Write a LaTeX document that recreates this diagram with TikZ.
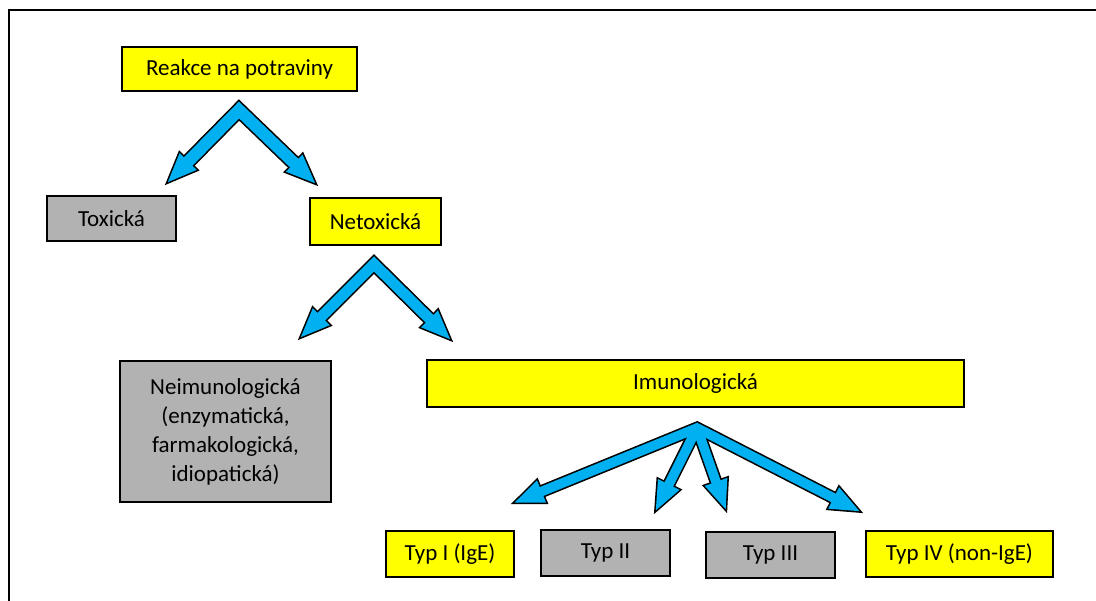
\documentclass[tikz,border=0pt]{standalone}
\usepackage{fontspec}
\setmainfont{Carlito}
\usetikzlibrary{calc}

\definecolor{arrowblue}{RGB}{0,176,240}
\definecolor{boxyellow}{RGB}{255,255,0}
\definecolor{boxgray}{RGB}{178,178,178}

% head of a block arrow: #1 style, #2 where it comes from, #3 tip
\newcommand{\tiphead}[3]{%
  \path[#1] ($(#3)!2pt!(#2)$) -- ($(#3)!16.5pt!(#2)!6pt!90:(#3)$) -- ($(#3)!16.5pt!(#2)!6pt!-90:(#3)$) -- cycle;}

\begin{document}
\begin{tikzpicture}[x=0.5pt,y=-0.5pt]
\tikzstyle{yellowbox}=[draw, fill=boxyellow, line width=0.7pt, rectangle, inner sep=0pt, align=center, font=\fontsize{11.5}{14.5}\selectfont]
\tikzstyle{graybox}=[yellowbox, fill=boxgray]
\tikzstyle{headout}=[draw=black, fill=black, line width=1.6pt, line join=miter]
\tikzstyle{headin}=[fill=arrowblue]

\useasboundingbox (0,0) rectangle (1096,600);
\draw[line width=1.4pt] (9,640) -- (9,10) -- (1130,10);

\node (reakce) at (239.5,69) [yellowbox, minimum width=117.5pt, minimum height=22pt] {Reakce na potraviny};
\node (toxicka) at (111.5,218.5) [graybox, minimum width=64.5pt, minimum height=22.5pt] {Toxická};
\node (netoxicka) at (375.5,221.5) [yellowbox, minimum width=65.5pt, minimum height=23.5pt] {Netoxická};
\node (neimuno) at (225.5,431.5) [graybox, minimum width=105.5pt, minimum height=70.5pt] {Neimunologická\\(enzymatická,\\farmakologická,\\idiopatická)};
\node (imuno) at (695.5,383.5) [yellowbox, minimum width=268.5pt, minimum height=23.5pt] {Imunologická};
\node (typI) at (450,554) [yellowbox, minimum width=64pt, minimum height=23pt] {Typ I (IgE)};
\node (typII) at (605.5,553) [graybox, minimum width=64.5pt, minimum height=23pt] {Typ II};
\node (typIII) at (770.5,555) [graybox, minimum width=64.5pt, minimum height=23pt] {Typ III};
\node (typIV) at (959.5,554) [yellowbox, minimum width=93.5pt, minimum height=23pt] {Typ IV (non-IgE)};

% arrow apexes and tips
\coordinate (apexA) at (239,110);
\coordinate (tipTox) at (165,185);
\coordinate (tipNetox) at (318,186);
\coordinate (apexB) at (374,264);
\coordinate (tipNeimuno) at (298,340);
\coordinate (tipImuno) at (453,342);
\coordinate (apexC) at (697,428);
\coordinate (tipTypI) at (511,504);
\coordinate (tipTypII) at (654,514);
\coordinate (tipTypIII) at (727,513);
\coordinate (tipTypIV) at (863,513);

% black outline first
\draw[line width=7.6pt, line join=miter] ($(tipTox)!14pt!(apexA)$) -- (apexA) -- ($(tipNetox)!14pt!(apexA)$);
\draw[line width=7pt, line join=miter] ($(tipNeimuno)!14pt!(apexB)$) -- (apexB) -- ($(tipImuno)!14pt!(apexB)$);
\draw[line width=6.4pt, line join=miter] ($(tipTypI)!14pt!(apexC)$) -- (apexC) -- ($(tipTypIV)!14pt!(apexC)$);
\draw[line width=6.4pt] (apexC) -- ($(tipTypII)!14pt!(apexC)$);
\draw[line width=6.4pt] (apexC) -- ($(tipTypIII)!14pt!(apexC)$);
\tiphead{headout}{apexA}{tipTox}
\tiphead{headout}{apexA}{tipNetox}
\tiphead{headout}{apexB}{tipNeimuno}
\tiphead{headout}{apexB}{tipImuno}
\tiphead{headout}{apexC}{tipTypI}
\tiphead{headout}{apexC}{tipTypII}
\tiphead{headout}{apexC}{tipTypIII}
\tiphead{headout}{apexC}{tipTypIV}

% blue fill on top
\draw[arrowblue, line width=6pt, line join=miter] ($(tipTox)!14pt!(apexA)$) -- (apexA) -- ($(tipNetox)!14pt!(apexA)$);
\draw[arrowblue, line width=5.4pt, line join=miter] ($(tipNeimuno)!14pt!(apexB)$) -- (apexB) -- ($(tipImuno)!14pt!(apexB)$);
\draw[arrowblue, line width=4.8pt, line join=miter] ($(tipTypI)!14pt!(apexC)$) -- (apexC) -- ($(tipTypIV)!14pt!(apexC)$);
\draw[arrowblue, line width=4.8pt] (apexC) -- ($(tipTypII)!14pt!(apexC)$);
\draw[arrowblue, line width=4.8pt] (apexC) -- ($(tipTypIII)!14pt!(apexC)$);
\tiphead{headin}{apexA}{tipTox}
\tiphead{headin}{apexA}{tipNetox}
\tiphead{headin}{apexB}{tipNeimuno}
\tiphead{headin}{apexB}{tipImuno}
\tiphead{headin}{apexC}{tipTypI}
\tiphead{headin}{apexC}{tipTypII}
\tiphead{headin}{apexC}{tipTypIII}
\tiphead{headin}{apexC}{tipTypIV}

\end{tikzpicture}
\end{document}
